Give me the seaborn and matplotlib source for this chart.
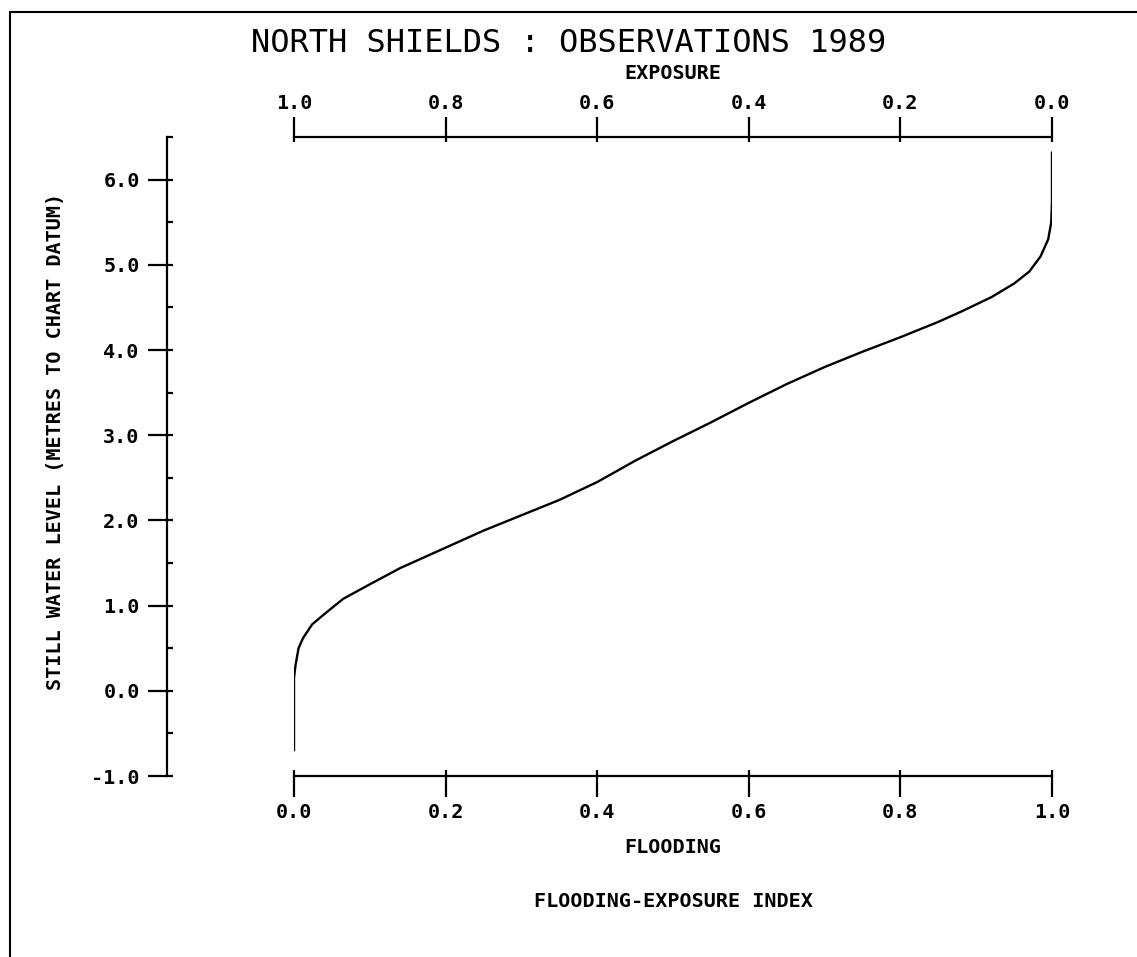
import matplotlib
matplotlib.use("Agg")
import numpy as np
import pandas as pd
import matplotlib.pyplot as plt
from matplotlib.lines import Line2D
from matplotlib.ticker import FixedLocator
import seaborn as sns

# Flooding-exposure curve
flooding = [0.0, 0.0, 0.002, 0.006, 0.012, 0.024, 0.04, 0.065, 0.10, 0.14,
            0.20, 0.25, 0.30, 0.35, 0.40, 0.45, 0.50, 0.55, 0.60, 0.65,
            0.70, 0.75, 0.80, 0.85, 0.88, 0.92, 0.95, 0.97, 0.985, 0.995,
            0.999, 1.0, 1.0]
level = [-0.70, 0.15, 0.30, 0.50, 0.62, 0.78, 0.90, 1.08, 1.25, 1.44,
         1.68, 1.88, 2.06, 2.24, 2.45, 2.70, 2.93, 3.15, 3.38, 3.60,
         3.80, 3.98, 4.15, 4.33, 4.45, 4.62, 4.78, 4.92, 5.10, 5.30,
         5.50, 5.75, 6.32]

x_ticks = [0.0, 0.2, 0.4, 0.6, 0.8, 1.0]
y_ticks = [-1.0, 0.0, 1.0, 2.0, 3.0, 4.0, 5.0, 6.0]
y_minor = [-1.0, -0.5, 0.0, 0.5, 1.0, 1.5, 2.0, 2.5, 3.0, 3.5, 4.0, 4.5, 5.0, 5.5, 6.0, 6.5]

df = pd.DataFrame({"flooding": flooding, "level": level})

sns.set_style("white")
plt.rcParams["font.family"] = ["DejaVu Sans Mono", "DejaVu Sans"]
plt.rcParams["text.color"] = "black"
plt.rcParams["axes.labelcolor"] = "black"
plt.rcParams["xtick.color"] = "black"
plt.rcParams["ytick.color"] = "black"

W, H = 1137, 957
fig = plt.figure(figsize=(W / 100, H / 100), dpi=100)
ax = fig.add_axes([294 / W, 1 - 776 / H, 758 / W, 639 / H])

sns.lineplot(data=df, x="flooding", y="level", sort=False, estimator=None,
             color="black", linewidth=1.7, ax=ax)

ax.set_xlim(0, 1)
ax.set_ylim(-1.0, 6.5)
px = 0.72  # points per pixel

# spines
ax.spines["right"].set_visible(False)
ax.spines["top"].set_visible(False)
ax.spines["left"].set_position(("outward", 127 * px))
for s in ["left", "bottom"]:
    ax.spines[s].set_linewidth(1.6)
    ax.spines[s].set_color("black")

tick_font = dict(family="DejaVu Sans Mono", size=14.5, weight="bold", color="black")

# bottom axis (flooding)
ax.set_xticks(x_ticks)
ax.set_xticklabels([f"{t:.1f}" for t in x_ticks], fontdict=tick_font)
ax.xaxis.remove_overlapping_locs = False
ax.xaxis.set_minor_locator(FixedLocator(x_ticks))
ax.tick_params(axis="x", which="major", direction="out", length=21 * px, width=1.6,
               pad=4, bottom=True)
ax.tick_params(axis="x", which="minor", direction="in", length=6 * px, width=1.6, bottom=True)
ax.set_xlabel("FLOODING", fontdict=tick_font, labelpad=12)

# left axis (still water level)
ax.set_yticks(y_ticks)
ax.set_yticklabels([f"{t:.1f}" for t in y_ticks], fontdict=tick_font)
ax.yaxis.remove_overlapping_locs = False
ax.yaxis.set_minor_locator(FixedLocator(y_minor))
ax.tick_params(axis="y", which="major", direction="out", length=19 * px, width=1.6,
               pad=6, left=True)
ax.tick_params(axis="y", which="minor", direction="in", length=6 * px, width=1.6, left=True)
ax.set_ylabel("STILL WATER LEVEL (METRES TO CHART DATUM)", fontdict=tick_font)
ax.yaxis.set_label_coords(-0.302, 0.523)

# top axis (exposure = 1 - flooding)
sec = ax.secondary_xaxis("top", functions=(lambda v: 1 - v, lambda v: 1 - v))
sec.spines["top"].set_linewidth(1.6)
sec.spines["top"].set_color("black")
sec.set_xticks(x_ticks)
sec.set_xticklabels([f"{t:.1f}" for t in x_ticks], fontdict=tick_font)
sec.xaxis.remove_overlapping_locs = False
sec.xaxis.set_minor_locator(FixedLocator(x_ticks))
sec.tick_params(axis="x", which="major", direction="out", length=20 * px, width=1.6, pad=3)
sec.tick_params(axis="x", which="minor", direction="in", length=5 * px, width=1.6)
sec.set_xlabel("EXPOSURE", fontdict=tick_font, labelpad=11)

ax.text(0.5, -0.196, "FLOODING-EXPOSURE INDEX", transform=ax.transAxes,
        ha="center", va="center", fontdict=tick_font)

fig.text(0.5, 1 - 44 / H, "NORTH SHIELDS : OBSERVATIONS 1989", ha="center", va="center",
         family="DejaVu Sans Mono", fontsize=23, color="black")

# page frame (top and left edge of the sheet)
fig.add_artist(Line2D([10 / W, 1.0], [1 - 12 / H, 1 - 12 / H], color="black", linewidth=1.5))
fig.add_artist(Line2D([10 / W, 10 / W], [1 - 12 / H, 0.0], color="black", linewidth=1.5))

fig.savefig("out.png", dpi=100, facecolor="white")
